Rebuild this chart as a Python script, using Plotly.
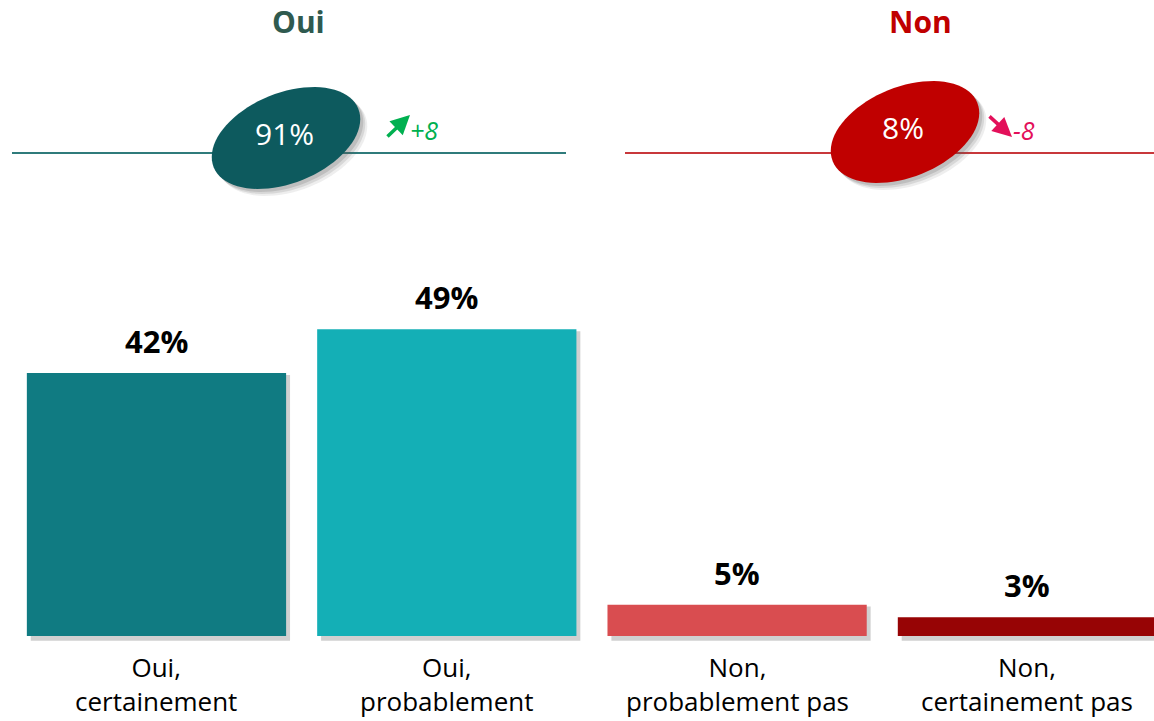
import numpy as np
import plotly.graph_objects as go

# ---------------- data ----------------
categories = ["Oui,<br>certainement", "Oui,<br>probablement",
              "Non,<br>probablement pas", "Non,<br>certainement pas"]
values = [42, 49, 5, 3]
bar_colors = ["#107B82", "#14AFB6", "#D94D50", "#970405"]
value_labels = ["42%", "49%", "5%", "3%"]

group_titles = ["Oui", "Non"]
group_totals = ["91%", "8%"]
group_changes = ["+8", "-8"]

# ---------------- geometry helpers (pixel -> paper) ----------------
W, H = 1154, 721
def px(x):
    return x / W
def py(y):
    return 1 - y / H

FONT = "Open Sans"

fig = go.Figure()

idx = list(range(len(categories)))
# shadow bars
fig.add_trace(go.Bar(
    x=idx, y=[v + 0.45 for v in values], base=[-0.75] * len(values),
    marker=dict(color="rgba(120,120,120,0.35)", line=dict(width=0)),
    offset=-0.445 + 0.012, width=0.893, hoverinfo="skip", showlegend=False))
fig.add_trace(go.Bar(
    x=idx, y=values,
    marker=dict(color=bar_colors, line=dict(width=0)),
    offset=-0.4465, width=0.893, showlegend=False))

fig.update_layout(
    width=W, height=H,
    margin=dict(l=0, r=0, t=0, b=0),
    paper_bgcolor="white", plot_bgcolor="white",
    barmode="overlay",
    xaxis=dict(range=[-0.539, 3.436], visible=False, fixedrange=True),
    yaxis=dict(range=[-13.58, 101.6], visible=False, fixedrange=True),
    font=dict(family=FONT),
)

annotations = []
# value labels above bars
for i, (v, t) in enumerate(zip(values, value_labels)):
    annotations.append(dict(x=i, y=v, xref="x", yref="y", text="<b>%s</b>" % t,
                            showarrow=False, xanchor="center", yanchor="middle", yshift=32,
                            font=dict(size=31, color="black", family=FONT)))
# category labels
for i, c in enumerate(categories):
    annotations.append(dict(x=i, y=0, xref="x", yref="y", text=c,
                            showarrow=False, xanchor="center", yanchor="middle", yshift=-48,
                            font=dict(size=26, color="black", family=FONT)))

shapes = []

def ellipse_path(cx, cy, a, b, theta_deg, n=80):
    th = np.deg2rad(theta_deg)
    t = np.linspace(0, 2 * np.pi, n, endpoint=False)
    xs = cx + a * np.cos(t) * np.cos(th) - b * np.sin(t) * np.sin(th)
    ys = cy - (a * np.cos(t) * np.sin(th) + b * np.sin(t) * np.cos(th))
    pts = ["%.5f %.5f" % (px(x), py(y)) for x, y in zip(xs, ys)]
    return "M " + " L ".join(pts) + " Z"

groups = [
    dict(title_x=298, line=(12, 566), line_color="#2F7B7B", ell=(286, 138),
         ell_color="#0D5A5E", title_color="#2F5A4F",
         arrow=((386, 138), (410, 115)), change_x=424, change_color="#00B050"),
    dict(title_x=920, line=(625, 1154), line_color="#C8383B", ell=(905, 132),
         ell_color="#C00000", title_color="#C00000",
         arrow=((988, 115), (1012, 137)), change_x=1024, change_color="#E3105A"),
]

for g, title, total, change in zip(groups, group_titles, group_totals, group_changes):
    # horizontal line
    shapes.append(dict(type="line", xref="paper", yref="paper",
                       x0=px(g["line"][0]), x1=px(g["line"][1]), y0=py(153), y1=py(153),
                       line=dict(color=g["line_color"], width=2), layer="above"))
    cx, cy = g["ell"]
    # soft shadow
    for dx, op in [(7, 0.10), (5, 0.15), (3, 0.2)]:
        shapes.append(dict(type="path", xref="paper", yref="paper",
                           path=ellipse_path(cx + dx, cy + dx, 78, 45, 22),
                           fillcolor="rgba(90,90,90,%.2f)" % op, line=dict(width=0),
                           layer="above"))
    shapes.append(dict(type="path", xref="paper", yref="paper",
                       path=ellipse_path(cx, cy, 78, 45, 22),
                       fillcolor=g["ell_color"], line=dict(width=0), layer="above"))
    annotations.append(dict(x=px(cx - 2), y=py(cy - 5), xref="paper", yref="paper",
                            text=total, showarrow=False, xanchor="center", yanchor="middle",
                            font=dict(size=30, color="white", family=FONT)))
    annotations.append(dict(x=px(g["title_x"]), y=py(22), xref="paper", yref="paper",
                            text="<b>%s</b>" % title, showarrow=False,
                            xanchor="center", yanchor="middle",
                            font=dict(size=30, color=g["title_color"], family=FONT)))
    (tx, ty), (hx, hy) = g["arrow"]
    annotations.append(dict(x=px(hx), y=py(hy), xref="paper", yref="paper",
                            ax=tx - hx, ay=ty - hy, axref="pixel", ayref="pixel",
                            text="", showarrow=True, arrowhead=2, arrowsize=1.1,
                            arrowwidth=3.5, arrowcolor=g["change_color"]))
    annotations.append(dict(x=px(g["change_x"]), y=py(130), xref="paper", yref="paper",
                            text="<i>%s</i>" % change, showarrow=False,
                            xanchor="center", yanchor="middle",
                            font=dict(size=25, color=g["change_color"], family=FONT)))

fig.update_layout(annotations=annotations, shapes=shapes)
fig.write_html("out.html", config={"displayModeBar": False},
               post_script="document.body.style.margin='0';document.body.style.overflow='hidden';")
